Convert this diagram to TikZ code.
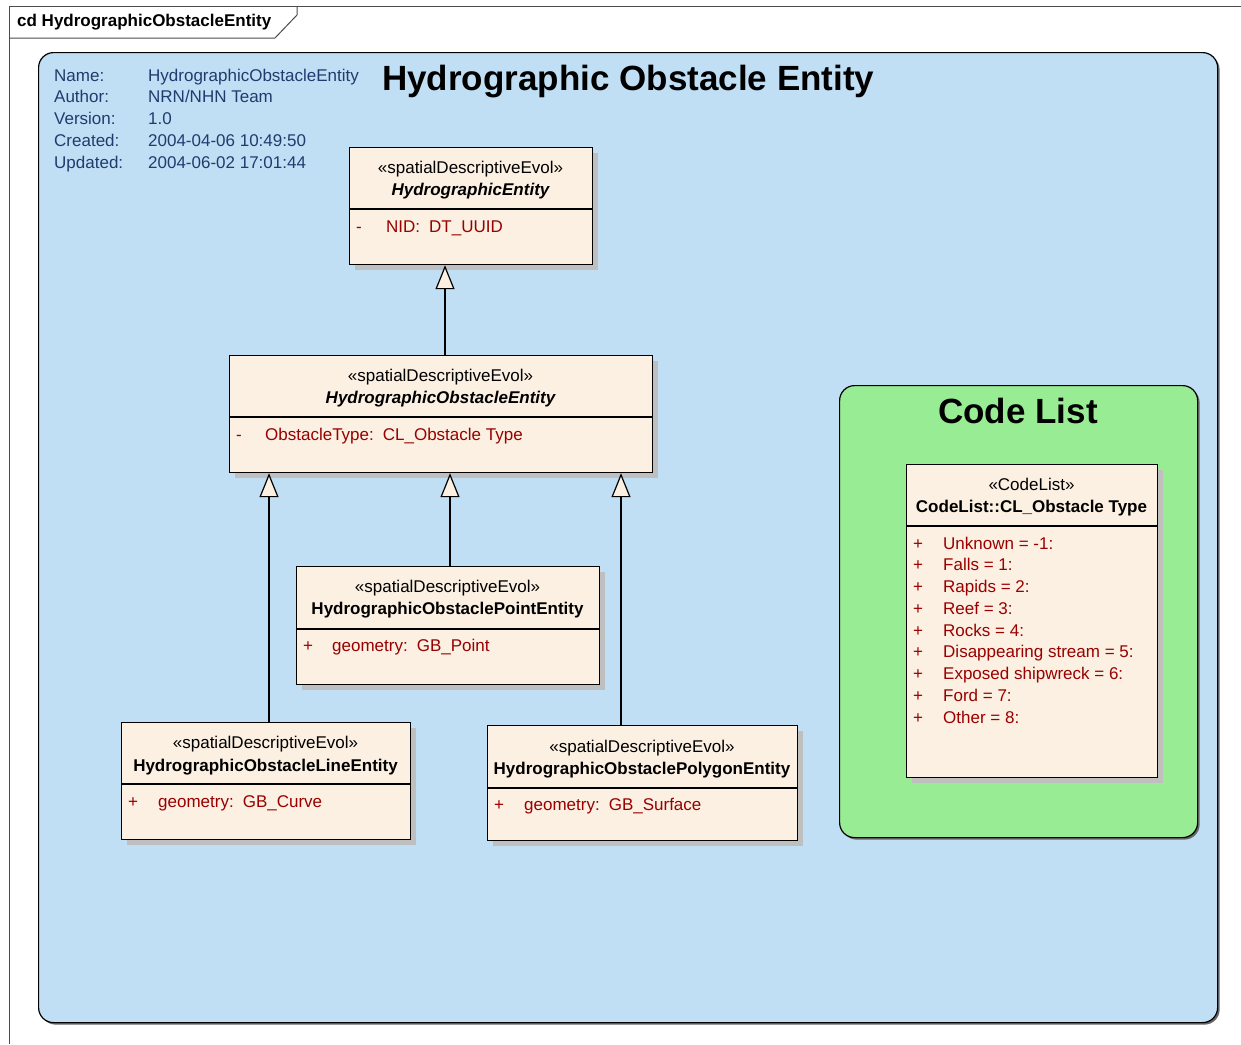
\documentclass[tikz,border=0pt]{standalone}
\usepackage{fontspec}
\setmainfont{Liberation Sans}
\usepackage{xcolor}
\usepackage{tikz}
\tikzset{every picture/.style={font issue=\fontsize{17}{21.75}},
         font issue/.style={execute at begin picture={#1\selectfont}}
        }
\usetikzlibrary{arrows.meta,shadows}
\usetikzlibrary{positioning}
\definecolor{pkgblue}{HTML}{C0DFF5}
\definecolor{pkggreen}{HTML}{98EC94}
\definecolor{umlcream}{HTML}{FBF0E2}
\definecolor{attrred}{HTML}{990000}
\definecolor{infoblue}{HTML}{1F3C6E}
\tikzstyle{umlclass}=[draw,line width=1.2pt,fill=umlcream,inner sep=0,anchor=north west,
drop shadow={shadow xshift=5pt,shadow yshift=-5pt,fill=black!25,opacity=1}]
\tikzstyle{pkg}=[draw,line width=1.2pt,rounded corners=15pt,inner sep=0,anchor=north west,
drop shadow={shadow xshift=2pt,shadow yshift=-2pt,fill=black!60,opacity=1}]
\tikzstyle{sepline}=[draw,line width=1.2pt]
\tikzstyle{stereo}=[anchor=base,inner sep=0,text=black]
\tikzstyle{cname}=[anchor=base,inner sep=0,font=\bfseries]
\tikzstyle{attr}=[anchor=base west,inner sep=0,text=attrred]
\tikzstyle{info}=[anchor=base west,inner sep=0,text=infoblue]
\tikzstyle{bigtitle}=[inner sep=0,font=\fontsize{35}{42}\selectfont\bfseries]
\tikzstyle{gen}=[draw,line width=1.2pt,-{Triangle[length=24pt,width=19pt,fill=umlcream]}]

\begin{document}
\begin{tikzpicture}[x=1pt,y=-1pt]
	\useasboundingbox (0,0) rectangle (1241,1044);
	
	% diagram frame
	\draw[black!70,line width=1pt] (9,1044) -- (9,6) -- (1241,6);
	\draw[black!70,line width=1pt] (9,38) -- (275,38) -- (297,15) -- (297,6);
	\node[anchor=base west,inner sep=0,font=\bfseries] (frame) at (17,27) {cd HydrographicObstacleEntity};
	
	% packages
	\node[pkg,fill=pkgblue,minimum width=1179pt,minimum height=970pt] (blue) at (38,52) {};
	\node[pkg,fill=pkggreen,minimum width=358pt,minimum height=452pt] (green) at (839,385) {};
	
	\node[info] (nm) at (54,81) {\makebox[94pt][l]{Name:}HydrographicObstacleEntity};
	\node[info] (au) at (54,102) {\makebox[94pt][l]{Author:}NRN/NHN Team};
	\node[info] (ve) at (54,124) {\makebox[94pt][l]{Version:}1.0};
	\node[info] (cr) at (54,146) {\makebox[94pt][l]{Created:}2004-04-06 10:49:50};
	\node[info] (up) at (54,168) {\makebox[94pt][l]{Updated:}2004-06-02 17:01:44};
	
	\node[bigtitle,anchor=base west] (title) at (382,90) {Hydrographic Obstacle Entity};
	\node[bigtitle,anchor=base] (cltitle) at (1018,423) {Code List};
	
	% classes
	\node[umlclass,minimum width=243pt,minimum height=117pt] (he) at (349,147) {};
	\draw[sepline] ([yshift=-62pt]he.north west) -- ([yshift=-62pt]he.north east);
	\node[stereo] (he-st) at (470.5,173) {«spatialDescriptiveEvol»};
	\node[cname,font=\bfseries\itshape] (he-nm) at (470.5,195) {HydrographicEntity};
	\node[attr] (he-a) at (356,232) {\makebox[30pt][l]{-}NID:\hspace{9pt}DT\_UUID};
	
	\node[umlclass,minimum width=423pt,minimum height=117pt] (ob) at (229,355) {};
	\draw[sepline] ([yshift=-62pt]ob.north west) -- ([yshift=-62pt]ob.north east);
	\node[stereo] (ob-st) at (440.5,381) {«spatialDescriptiveEvol»};
	\node[cname,font=\bfseries\itshape] (ob-nm) at (440.5,403) {HydrographicObstacleEntity};
	\node[attr] (ob-a) at (236,440) {\makebox[29pt][l]{-}ObstacleType:\hspace{9pt}CL\_Obstacle Type};
	
	\node[umlclass,minimum width=303pt,minimum height=118pt] (pt) at (296,566) {};
	\draw[sepline] ([yshift=-63pt]pt.north west) -- ([yshift=-63pt]pt.north east);
	\node[stereo] (pt-st) at (447.5,592) {«spatialDescriptiveEvol»};
	\node[cname] (pt-nm) at (447.5,614) {HydrographicObstaclePointEntity};
	\node[attr] (pt-a) at (303,651) {\makebox[29pt][l]{+}geometry:\hspace{9pt}GB\_Point};
	
	\node[umlclass,minimum width=289pt,minimum height=117pt] (ln) at (121,722) {};
	\draw[sepline] ([yshift=-62pt]ln.north west) -- ([yshift=-62pt]ln.north east);
	\node[stereo] (ln-st) at (265.5,748) {«spatialDescriptiveEvol»};
	\node[cname] (ln-nm) at (265.5,771) {HydrographicObstacleLineEntity};
	\node[attr] (ln-a) at (128,807) {\makebox[30pt][l]{+}geometry:\hspace{9pt}GB\_Curve};
	
	\node[umlclass,minimum width=310pt,minimum height=115pt] (pg) at (487,725) {};
	\draw[sepline] ([yshift=-63pt]pg.north west) -- ([yshift=-63pt]pg.north east);
	\node[stereo] (pg-st) at (642,752) {«spatialDescriptiveEvol»};
	\node[cname] (pg-nm) at (642,774) {HydrographicObstaclePolygonEntity};
	\node[attr] (pg-a) at (494,810) {\makebox[30pt][l]{+}geometry:\hspace{9pt}GB\_Surface};
	
	\node[umlclass,minimum width=251pt,minimum height=313pt] (cl) at (906,464) {};
	\draw[sepline] ([yshift=-62pt]cl.north west) -- ([yshift=-62pt]cl.north east);
	\node[stereo] (cl-st) at (1031.5,490) {«CodeList»};
	\node[cname] (cl-nm) at (1031.5,512) {CodeList::CL\_Obstacle Type};
	\foreach \t [count=\i from 0] in {Unknown = -1:,Falls = 1:,Rapids = 2:,Reef = 3:,Rocks = 4:,
		Disappearing stream = 5:,Exposed shipwreck = 6:,Ford = 7:,Other = 8:}
		\node[attr] (cl-a\i) at (913,549+21.75*\i) {\makebox[30pt][l]{+}\t};
	
	% generalizations
	\draw[gen] (ob.north -| 445,0) -- (he.south -| 445,0);
	\draw[gen] (ln.north -| 269,0) -- (ob.south -| 269,0);
	\draw[gen] (pt.north -| 450,0) -- (ob.south -| 450,0);
	\draw[gen] (pg.north -| 621,0) -- (ob.south -| 621,0);
	
\end{tikzpicture}
\end{document}
